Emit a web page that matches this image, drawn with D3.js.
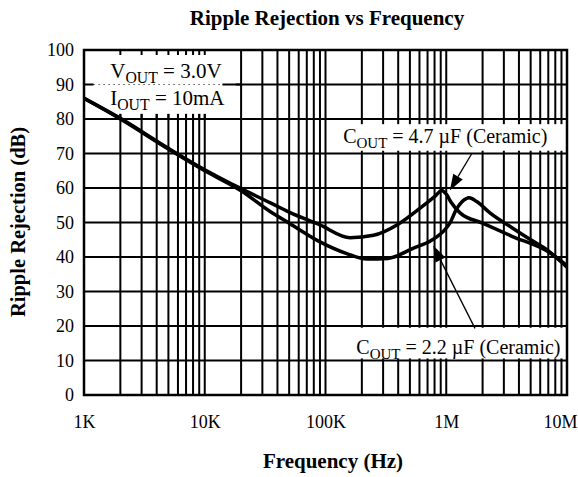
<!DOCTYPE html>
<html>
<head>
<meta charset="utf-8">
<script src="https://cdn.jsdelivr.net/npm/d3@7"></script>
<style>
  body { margin: 0; background: #fff; }
  text { font-family: "Liberation Serif", "Times New Roman", serif; fill: #000; }
</style>
</head>
<body>
<div id="vis-container"></div>
<script>
const width = 578;
const height = 477;
const margin = { top: 50, right: 11, bottom: 82, left: 84 };

// tick labels
const xTickValues = [1e3, 1e4, 1e5, 1e6, 1e7];
const xTickLabels = ["1K", "10K", "100K", "1M", "10M"];
const yTickValues = [0, 10, 20, 30, 40, 50, 60, 70, 80, 90, 100];

// Cout = 4.7 uF (ceramic)
const freq47 = [1e3, 2e3, 5e3, 1e4, 2e4, 3.5e4, 5e4, 9e4, 1.6e5, 2.5e5, 4e5, 6e5, 8e5, 9.2e5, 1.0e6, 1.1e6, 1.3e6, 2e6, 3.5e6, 7e6, 1e7];
const db47   = [86, 80.2, 71.5, 65.3, 59.8, 55.7, 53, 49.3, 45.6, 46.3, 49.5, 54, 57.5, 59.3, 58.2, 55.8, 52.8, 49.8, 46, 41.5, 37.5];

// Cout = 2.2 uF (ceramic)
const freq22 = [1e3, 2e3, 5e3, 1e4, 2e4, 3.5e4, 5e4, 9e4, 1.5e5, 2.2e5, 3.3e5, 5.3e5, 7.5e5, 9.5e5, 1.08e6, 1.2e6, 1.35e6, 1.55e6, 1.8e6, 2.3e6, 3.5e6, 5e6, 7e6, 1e7];
const db22   = [86, 80, 71.3, 65, 59.2, 53.1, 49.8, 44.4, 41, 39.4, 39.6, 42.5, 44.8, 47.5, 50, 53.5, 56, 57.2, 56, 52.8, 48.5, 45, 41.8, 37];

const svg = d3.select("#vis-container")
  .append("svg")
  .attr("width", width)
  .attr("height", height);

const x = d3.scaleLog()
  .domain([1e3, 1e7])
  .range([margin.left, width - margin.right]);

const y = d3.scaleLinear()
  .domain([0, 100])
  .range([height - margin.bottom, margin.top]);

// grid values: 1..9 of every decade
let gridX = [];
for (let e = 3; e < 7; e++) {
  for (let k = 1; k <= 9; k++) gridX.push(k * Math.pow(10, e));
}
gridX.push(1e7);

// vertical grid
svg.append("g")
  .selectAll("line")
  .data(gridX)
  .enter()
  .append("line")
    .attr("x1", (d) => x(d))
    .attr("x2", (d) => x(d))
    .attr("y1", y(0))
    .attr("y2", y(100))
    .attr("stroke", "#000")
    .attr("stroke-width", 2);

// horizontal grid
svg.append("g")
  .selectAll("line")
  .data(yTickValues)
  .enter()
  .append("line")
    .attr("x1", x(1e3))
    .attr("x2", x(1e7))
    .attr("y1", (d) => y(d))
    .attr("y2", (d) => y(d))
    .attr("stroke", "#000")
    .attr("stroke-width", 2);

// box for the conditions, top left
svg.append("rect")
  .attr("x", x(1e3) + 1)
  .attr("y", y(100) + 1)
  .attr("width", x(1.8e4) - x(1e3) - 1)
  .attr("height", y(81.5) - y(100) - 1)
  .attr("fill", "#fff");

// little ticks left in that box
const boxTicks = gridX.filter((d) => d > 1e3 && d <= 1e4);
svg.append("g")
  .selectAll("line")
  .data(boxTicks)
  .enter()
  .append("line")
    .attr("x1", (d) => x(d))
    .attr("x2", (d) => x(d))
    .attr("y1", y(100))
    .attr("y2", y(100) + 5)
    .attr("stroke", "#000")
    .attr("stroke-width", 2);
svg.append("g")
  .selectAll("line")
  .data(boxTicks)
  .enter()
  .append("line")
    .attr("x1", (d) => x(d))
    .attr("x2", (d) => x(d))
    .attr("y1", y(80))
    .attr("y2", y(80) - 5)
    .attr("stroke", "#000")
    .attr("stroke-width", 2);

// 90 dB line through the box: solid stub, dotted, solid again
svg.append("line")
  .attr("x1", x(1e3)).attr("x2", x(1.2e3))
  .attr("y1", y(90)).attr("y2", y(90))
  .attr("stroke", "#000").attr("stroke-width", 2);
svg.append("line")
  .attr("x1", x(1.2e3)).attr("x2", x(1.4e4))
  .attr("y1", y(90)).attr("y2", y(90))
  .attr("stroke", "#000").attr("stroke-width", 1)
  .attr("stroke-dasharray", "1,4");
svg.append("line")
  .attr("x1", x(1.4e4)).attr("x2", x(2e4))
  .attr("y1", y(90)).attr("y2", y(90))
  .attr("stroke", "#000").attr("stroke-width", 2);

// white boxes behind the curve labels
svg.append("rect")
  .attr("x", x(1.3e5)).attr("y", y(78.5))
  .attr("width", x(9.9e6) - x(1.3e5)).attr("height", y(70.8) - y(78.5))
  .attr("fill", "#fff");
svg.append("rect")
  .attr("x", x(1.65e5)).attr("y", y(19.5))
  .attr("width", x(9.6e6) - x(1.65e5)).attr("height", y(10.6) - y(19.5))
  .attr("fill", "#fff");

// curves
const line = d3.line()
  .x((d) => x(d[0]))
  .y((d) => y(d[1]))
  .curve(d3.curveMonotoneX);

svg.append("path")
  .datum(d3.zip(freq22, db22))
  .attr("d", line)
  .attr("fill", "none")
  .attr("stroke", "#000")
  .attr("stroke-width", 3.5)
  .attr("stroke-linejoin", "round");

svg.append("path")
  .datum(d3.zip(freq47, db47))
  .attr("d", line)
  .attr("fill", "none")
  .attr("stroke", "#000")
  .attr("stroke-width", 3.5)
  .attr("stroke-linejoin", "round");

// frame
svg.append("rect")
  .attr("x", x(1e3))
  .attr("y", y(100))
  .attr("width", x(1e7) - x(1e3))
  .attr("height", y(0) - y(100))
  .attr("fill", "none")
  .attr("stroke", "#000")
  .attr("stroke-width", 2.5);

// axes labels
svg.append("g")
  .attr("transform", `translate(0,${y(0) + 10})`)
  .call(d3.axisBottom(x).tickValues(xTickValues).tickFormat((d, i) => xTickLabels[i]).tickSize(0))
  .call((g) => g.select(".domain").remove())
  .selectAll("text")
    .attr("font-family", "Liberation Serif, serif")
    .attr("font-size", "18px")
    .attr("fill", "#000")
    .attr("dy", "1.1em")
    .attr("text-anchor", (d) => d === 1e7 ? "end" : "middle")
    .attr("x", (d) => d === 1e7 ? 10 : 0);

svg.append("g")
  .attr("transform", `translate(${x(1e3) - 7},0)`)
  .call(d3.axisLeft(y).tickValues(yTickValues).tickSize(0))
  .call((g) => g.select(".domain").remove())
  .selectAll("text")
    .attr("font-family", "Liberation Serif, serif")
    .attr("font-size", "18px")
    .attr("fill", "#000");

// titles
svg.append("text")
  .attr("x", 327)
  .attr("y", 25)
  .attr("text-anchor", "middle")
  .attr("font-weight", "bold")
  .attr("font-size", "21px")
  .text("Ripple Rejection vs Frequency");

svg.append("text")
  .attr("x", 333)
  .attr("y", 468)
  .attr("text-anchor", "middle")
  .attr("font-weight", "bold")
  .attr("font-size", "21px")
  .text("Frequency (Hz)");

svg.append("text")
  .attr("transform", "translate(25,222) rotate(-90)")
  .attr("text-anchor", "middle")
  .attr("font-weight", "bold")
  .attr("font-size", "20.5px")
  .text("Ripple Rejection (dB)");

// labels with subscripts
function subLabel(px, py, main, sub, rest, size) {
  const t = svg.append("text")
    .attr("x", px)
    .attr("y", py)
    .attr("font-size", size + "px");
  t.append("tspan").text(main);
  t.append("tspan").attr("font-size", (size * 0.75) + "px").attr("dy", 5).text(sub);
  t.append("tspan").attr("dy", -5).text(rest);
}

subLabel(x(1.65e3), y(92), "V", "OUT", " = 3.0V", 21);
subLabel(x(1.65e3), y(84), "I", "OUT", " = 10mA", 21);
subLabel(x(1.4e5), y(73), "C", "OUT", " = 4.7 \u00b5F (Ceramic)", 20);
subLabel(x(1.8e5), y(11.8), "C", "OUT", " = 2.2 \u00b5F (Ceramic)", 20);

// arrows
function arrow(f0, d0, f1, d1) {
  const x0 = x(f0), y0 = y(d0), x1 = x(f1), y1 = y(d1);
  const ang = Math.atan2(y1 - y0, x1 - x0);
  const len = 16, half = 5.5;
  const bx = x1 - len * Math.cos(ang), by = y1 - len * Math.sin(ang);
  svg.append("line")
    .attr("x1", x0).attr("y1", y0)
    .attr("x2", bx).attr("y2", by)
    .attr("stroke", "#000").attr("stroke-width", 1.3);
  svg.append("path")
    .attr("d", `M${x1},${y1}L${bx - half * Math.sin(ang)},${by + half * Math.cos(ang)}L${bx + half * Math.sin(ang)},${by - half * Math.cos(ang)}Z`)
    .attr("fill", "#000");
}

arrow(1.63e6, 70, 1.07e6, 59.3);
arrow(1.73e6, 19.3, 7.8e5, 43.3);
</script>
</body>
</html>
